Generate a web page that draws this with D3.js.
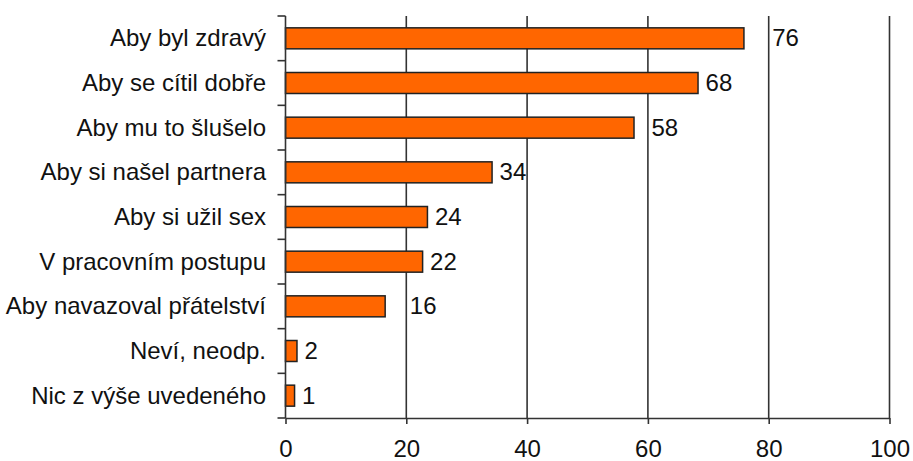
<!DOCTYPE html>
<html>
<head>
<meta charset="utf-8">
<script src="https://cdn.jsdelivr.net/npm/d3@7"></script>
<style>
  html, body { margin: 0; padding: 0; background: #fff; }
  svg text { font-family: "Liberation Sans", Arial, sans-serif; fill: #111; }
</style>
</head>
<body>
<svg id="chart" width="913" height="461"></svg>
<script>
const categories = [
  "Aby byl zdravý",
  "Aby se cítil dobře",
  "Aby mu to šlušelo",
  "Aby si našel partnera",
  "Aby si užil sex",
  "V pracovním postupu",
  "Aby navazoval přátelství",
  "Neví, neodp.",
  "Nic z výše uvedeného"
];
const values = [75.9, 68.3, 57.7, 34.2, 23.5, 22.7, 16.5, 1.9, 1.5];
const valueLabels = ["76", "68", "58", "34", "24", "22", "16", "2", "1"];
const xTicks = [0, 20, 40, 60, 80, 100];

(function () {
const svg = d3.select("#chart");
const mLeft = 285.5, mRight = 889.5, mTop = 16, mBottom = 418;
const fontSize = 24;

const x = d3.scaleLinear().domain([0, 100]).range([mLeft, mRight]);
const y = d3.scaleBand().domain(categories).range([mTop, mBottom]).paddingInner(0.53).paddingOuter(0.265);
const yb = d3.scaleLinear().domain([0, categories.length]).range([mTop, mBottom]);

const lineColor = "#333";

// gridlines
svg.append("g").selectAll("line").data(xTicks.filter(d => d > 0)).join("line")
  .attr("x1", d => x(d)).attr("x2", d => x(d))
  .attr("y1", mTop).attr("y2", mBottom)
  .attr("stroke", lineColor).attr("stroke-width", 1.6);

// bars
svg.append("g").selectAll("rect").data(values).join("rect")
  .attr("x", x(0))
  .attr("y", (d, i) => y(categories[i]))
  .attr("width", d => x(d) - x(0))
  .attr("height", y.bandwidth())
  .attr("fill", "#FF6600")
  .attr("stroke", "#222")
  .attr("stroke-width", 1.5);

// value labels, shifted past gridlines when they would overlap
const gridX = xTicks.filter(d => d > 0).map(d => x(d));
svg.append("g").selectAll("text").data(values).join("text")
  .attr("y", (d, i) => y(categories[i]) + y.bandwidth() / 2)
  .attr("dy", "0.33em")
  .style("font-size", fontSize + "px")
  .text((d, i) => valueLabels[i])
  .each(function(d) {
    let tx = x(d) + 7.5;
    const w = this.getComputedTextLength();
    for (const g of gridX) {
      if (g >= tx - 1 && g <= tx + w) tx = g + 3.5;
    }
    d3.select(this).attr("x", tx);
  });

// left axis with ticks at band boundaries
const yAxis = svg.append("g");
yAxis.append("line").attr("x1", mLeft).attr("x2", mLeft).attr("y1", mTop).attr("y2", mBottom)
  .attr("stroke", lineColor).attr("stroke-width", 1.6);
yAxis.selectAll("line.t").data(d3.range(categories.length + 1)).join("line")
  .attr("class", "t")
  .attr("x1", mLeft - 8).attr("x2", mLeft)
  .attr("y1", d => yb(d)).attr("y2", d => yb(d))
  .attr("stroke", lineColor).attr("stroke-width", 1.6);
yAxis.selectAll("text").data(categories).join("text")
  .attr("x", 266)
  .attr("y", d => y(d) + y.bandwidth() / 2)
  .attr("dy", "0.33em")
  .attr("text-anchor", "end")
  .style("font-size", fontSize + "px")
  .text(d => d);

// bottom axis
const xAxis = d3.axisBottom(x).tickValues(xTicks).tickSizeInner(6).tickSizeOuter(0).tickPadding(16);
const gx = svg.append("g").attr("transform", `translate(0,${mBottom})`).call(xAxis);
gx.select(".domain").attr("stroke", lineColor).attr("stroke-width", 1.6);
gx.selectAll(".tick line").attr("stroke", lineColor).attr("stroke-width", 1.6);
gx.selectAll(".tick text").style("font-size", fontSize + "px").attr("fill", "#111")
  .style("font-family", '"Liberation Sans", Arial, sans-serif');
})();
</script>
</body>
</html>
